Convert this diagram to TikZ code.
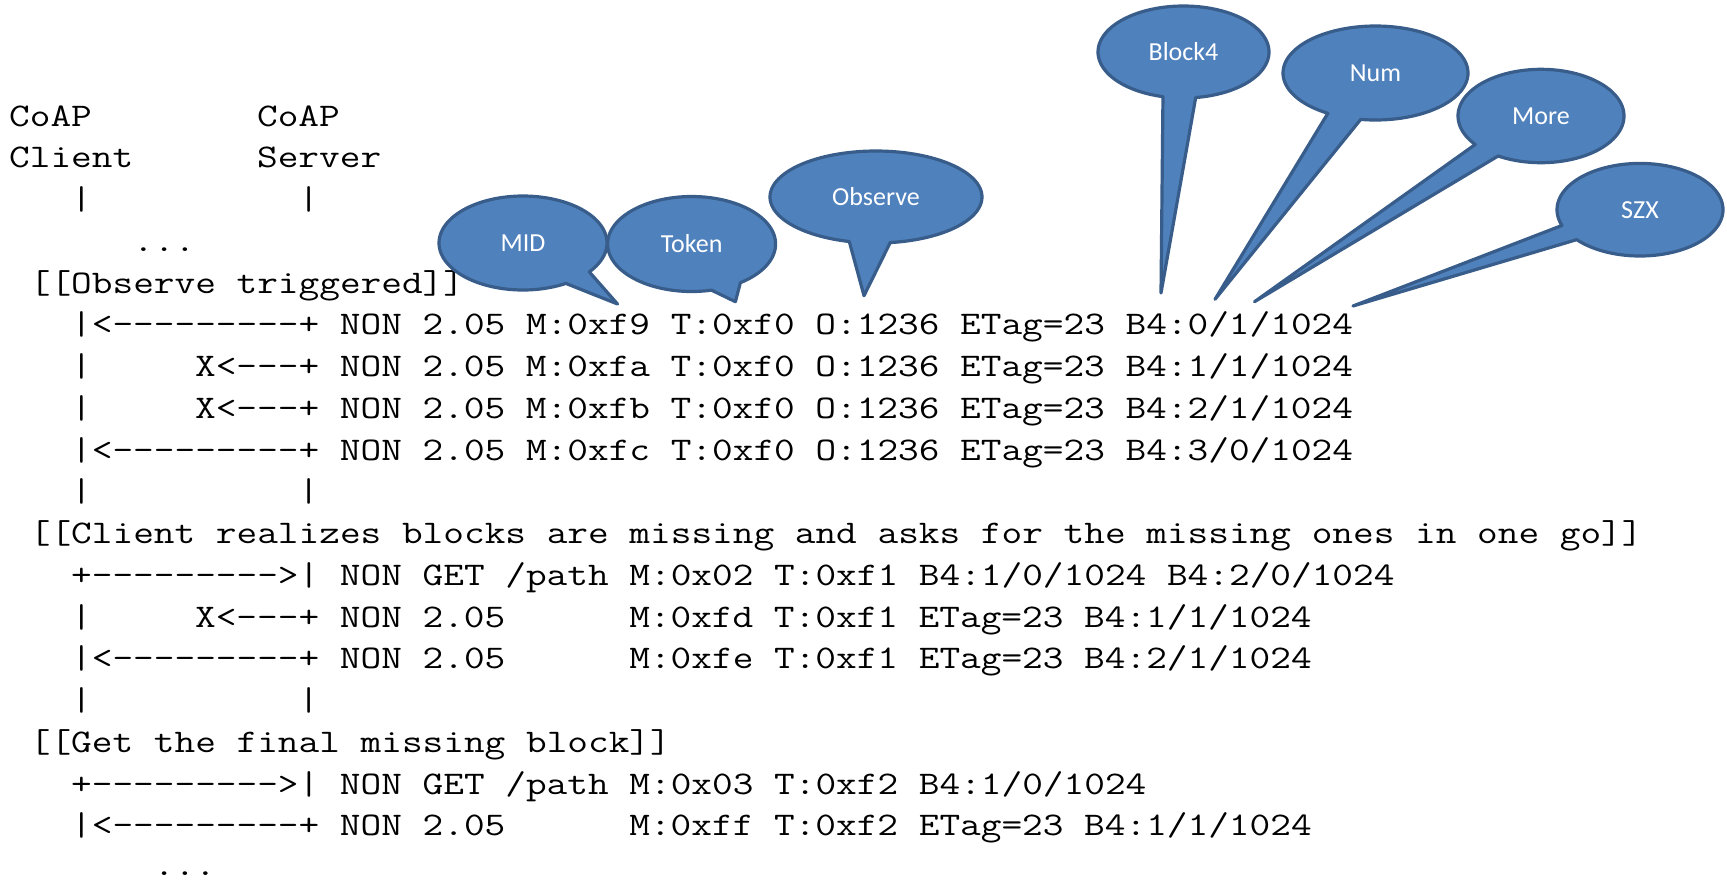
\documentclass[tikz,border=0pt]{standalone}
\usepackage{fontspec}
\setmainfont{Carlito}
\newfontfamily\codefont{Latin Modern Mono}[FakeStretch=1.2168]
\newfontfamily\callfont{Carlito}
\definecolor{cofill}{HTML}{4F81BD}
\definecolor{coline}{HTML}{385D8A}
\newcommand\hy{-\kern0pt\relax}
\newcommand\codesetup{\codefont\fontsize{33}{40}\selectfont\frenchspacing\spaceskip=20.66pt\relax\xspaceskip=20.66pt\relax}
\newcommand\txtrow[3]{\node[code] (r#1c#2) at ({9+#2*20.66},{126+41.75*#1}) {#3};}
\newcommand\callout[9]{%
  \pgfmathsetmacro\tend{#6+360}%
  \path[callout] ({#2+#4*cos(#6)},{#3+#5*sin(#6)}) -- (#8) -- ({#2+#4*cos(#7)},{#3+#5*sin(#7)})
     -- plot[domain=#7:\tend, samples=120] ({#2+#4*cos(\x)},{#3+#5*sin(\x)}) -- cycle;
  \node[calltext] (#1) at (#2,#3) {#9};}
\tikzset{
  code/.style={anchor=base west, inner sep=0pt, text=black, font={\codesetup}},
  callout/.style={fill=cofill, draw=coline, line width=3.2pt, line join=round},
  calltext/.style={text=white, inner sep=0pt, font={\callfont\fontsize{26}{30}\selectfont}}
}
\begin{document}
\begin{tikzpicture}[x=1pt,y=-1pt]
\useasboundingbox (0,0) rectangle (1727,879);
\fill[white] (0,0) rectangle (1727,879);
% text rows
\txtrow{0}{0}{CoAP}
\txtrow{0}{12}{CoAP}
\txtrow{1}{0}{Client}
\txtrow{1}{12}{Server}
\txtrow{2}{3}{|}
\txtrow{2}{14}{|}
\txtrow{3}{6}{...}
\txtrow{4}{1}{[[Observe triggered]]}
\txtrow{5}{3}{|<\hy\hy\hy\hy\hy\hy\hy\hy\hy+ NON 2.05 M:0xf9 T:0xf0 O:1236 ETag=23 B4:0/1/1024}
\txtrow{6}{3}{|~~~~~X<\hy\hy\hy+ NON 2.05 M:0xfa T:0xf0 O:1236 ETag=23 B4:1/1/1024}
\txtrow{7}{3}{|~~~~~X<\hy\hy\hy+ NON 2.05 M:0xfb T:0xf0 O:1236 ETag=23 B4:2/1/1024}
\txtrow{8}{3}{|<\hy\hy\hy\hy\hy\hy\hy\hy\hy+ NON 2.05 M:0xfc T:0xf0 O:1236 ETag=23 B4:3/0/1024}
\txtrow{9}{3}{|~~~~~~~~~~|}
\txtrow{10}{1}{[[Client realizes blocks are missing and asks for the missing ones in one go]]}
\txtrow{11}{3}{+\hy\hy\hy\hy\hy\hy\hy\hy\hy>| NON GET /path M:0x02 T:0xf1 B4:1/0/1024 B4:2/0/1024}
\txtrow{12}{3}{|~~~~~X<\hy\hy\hy+ NON 2.05~~~~~~M:0xfd T:0xf1 ETag=23 B4:1/1/1024}
\txtrow{13}{3}{|<\hy\hy\hy\hy\hy\hy\hy\hy\hy+ NON 2.05~~~~~~M:0xfe T:0xf1 ETag=23 B4:2/1/1024}
\txtrow{14}{3}{|~~~~~~~~~~|}
\txtrow{15}{1}{[[Get the final missing block]]}
\txtrow{16}{3}{+\hy\hy\hy\hy\hy\hy\hy\hy\hy>| NON GET /path M:0x03 T:0xf2 B4:1/0/1024}
\txtrow{17}{3}{|<\hy\hy\hy\hy\hy\hy\hy\hy\hy+ NON 2.05~~~~~~M:0xff T:0xf2 ETag=23 B4:1/1/1024}
\node[code] (r18c7) at ({9+7*20.66},875) {...};
% callouts
\callout{mid}{523}{243}{84}{47}{37.9}{59.3}{617.5,304}{MID}
\callout{token}{691.6}{244}{84}{47.5}{54.5}{76.3}{735.4,301.7}{Token}
\callout{observe}{876}{197}{106}{46}{82.3}{104.6}{864,295.7}{Observe}
\callout{block}{1183.5}{52}{85.5}{46}{81.8}{103.9}{1161,293}{Block4}
\callout{num}{1375.5}{73}{92.5}{47}{99.2}{121.0}{1215,299.3}{Num}
\callout{more}{1541}{116}{83}{46.7}{121.1}{142.4}{1254.5,301.7}{More}
\callout{szx}{1640}{209.7}{83}{46.3}{139.7}{160.1}{1353,306}{SZX}
\end{tikzpicture}
\end{document}
